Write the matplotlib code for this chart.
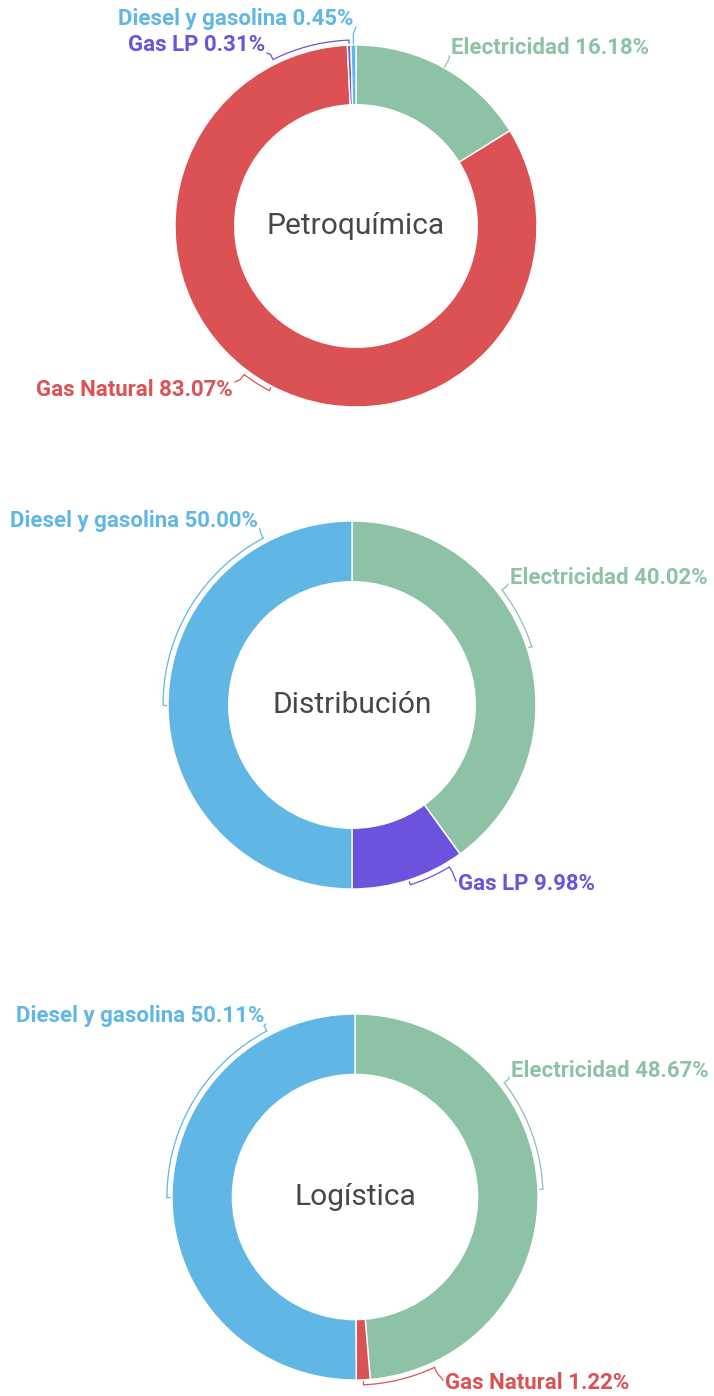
import numpy as np
import matplotlib
matplotlib.use('Agg')
import matplotlib.pyplot as plt

# data
categories = ['Electricidad', 'Gas Natural', 'Gas LP', 'Diesel y gasolina']
colors = ['#8DC2A6', '#DC5254', '#6C52DC', '#60B6E4']
charts = ['Petroquímica', 'Distribución', 'Logística']
petroquimica = [16.18, 83.07, 0.31, 0.45]
distribucion = [40.02, 0.0, 9.98, 50.00]
logistica = [48.67, 1.22, 0.0, 50.11]
values = [petroquimica, distribucion, logistica]

W, H = 714, 1396
# layout (pixels from top-left): center x, center y, outer radius
centers = [(356, 226, 181), (352, 705, 184), (355, 1197, 183)]
hole = 0.67
# label layout per chart, per category: (x, y, ha, connection angle cw from top, attach dy)
label_pos = [
    {0: (451, 48, 'left', None, 8), 1: (233, 390, 'right', 217, -8),
     2: (265, 45, 'right', 333.5, 8), 3: (354, 19, 'right', None, 8)},
    {0: (510, 578, 'left', 52.5, 6), 2: (458, 884, 'left', 149, -3),
     3: (258, 521, 'right', 332, 8)},
    {0: (511, 1071, 'left', 52.5, 6), 1: (445, 1383, 'left', 155, -3),
     3: (264, 1016, 'right', 332, 8)},
]

fig = plt.figure(figsize=(W / 100, H / 100), dpi=100)
ax = fig.add_axes([0, 0, 1, 1])


def pt(cx, cy, rad, cw):
    th = np.deg2rad(90 - cw)
    return cx + rad * np.cos(th), cy + rad * np.sin(th)


for name, vals, (cxp, cyp, R), labs in zip(charts, values, centers, label_pos):
    cx, cy = cxp, H - cyp
    wedges, _ = ax.pie(vals, colors=colors, startangle=90, counterclock=False,
                       radius=R, center=(cx, cy),
                       wedgeprops=dict(width=R * (1 - hole), edgecolor='white', linewidth=1))
    ax.text(cx, cy, name, ha='center', va='center', fontsize=21.5,
            color='#474747', family='Roboto')
    gap = 5
    for i, w in enumerate(wedges):
        if vals[i] <= 0 or i not in labs:
            continue
        lx, ly, ha, conn, ady = labs[i]
        m = (90 - (w.theta1 + w.theta2) / 2.0) % 360
        c = m if conn is None else conn
        col = colors[i]
        # bracket arc between mid angle and connection angle
        if abs(c - m) > 0.5:
            a = np.linspace(m, c, 80)
            xs, ys = pt(cx, cy, R + gap, a)
            ax.plot(xs, ys, color=col, lw=0.9, solid_capstyle='butt')
            tx, ty = pt(cx, cy, np.array([R + gap, R + gap - 3]), m)
            ax.plot(tx, ty, color=col, lw=0.9)
            r0 = R + gap
        else:
            r0 = R + 1
        # leader
        p0 = pt(cx, cy, r0, c)
        p1 = pt(cx, cy, R + gap + 6, c)
        ax_ = lx - 2 if ha == 'left' else lx + 2
        p2 = (ax_, H - (ly + ady))
        ax.plot([p0[0], p1[0], p2[0]], [p0[1], p1[1], p2[1]], color=col, lw=0.9)
        ax.text(lx, H - ly, f'{categories[i]} {vals[i]:.2f}%', ha=ha, va='center',
                fontsize=16.0, color=col, fontweight='bold', family='Roboto')

ax.set_xlim(0, W)
ax.set_ylim(0, H)
ax.set_aspect('equal')
ax.axis('off')
fig.savefig('out.png', dpi=100, facecolor='white')
